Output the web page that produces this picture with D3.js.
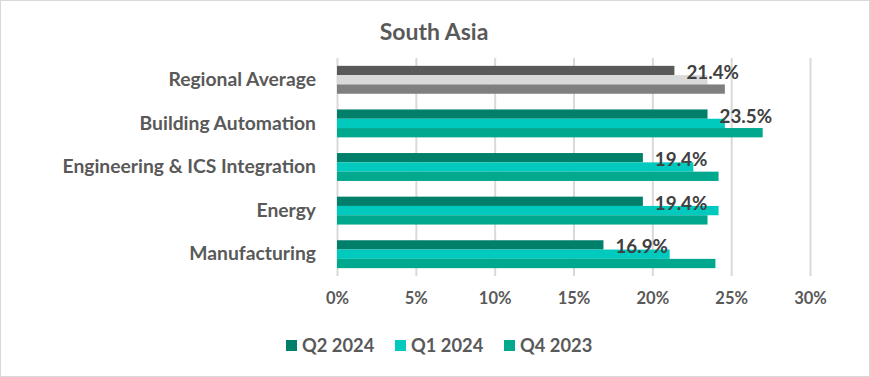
<!DOCTYPE html>
<html>
<head>
<meta charset="utf-8">
<script src="https://cdn.jsdelivr.net/npm/d3@7"></script>
<style>
  body { margin: 0; background: #fff; }
  svg text { font-family: Lato, "Open Sans", sans-serif; font-weight: bold; }
</style>
</head>
<body>
<div id="chart"></div>
<script>
// chart values
const categories = ['Regional Average', 'Building Automation', 'Engineering & ICS Integration', 'Energy', 'Manufacturing'];
const seriesNames = ['Q2 2024', 'Q1 2024', 'Q4 2023'];
const q2_2024 = [0.214, 0.235, 0.194, 0.194, 0.169];
const q1_2024 = [0.235, 0.246, 0.226, 0.242, 0.211];
const q4_2023 = [0.246, 0.270, 0.242, 0.235, 0.240];
const xTicks = [0, 0.05, 0.10, 0.15, 0.20, 0.25, 0.30];

const seriesColors = ['#00806a', '#00c9be', '#00a88e'];
const avgColors = ['#595959', '#d9d9d9', '#7f7f7f'];

const width = 870;
const height = 377;
const plot = {left: 337, right: 810, top: 58, bottom: 276};

const rows = categories.map((c, i) => ({
  name: c,
  values: [q2_2024[i], q1_2024[i], q4_2023[i]]
}));

const svg = d3.select('#chart').append('svg')
  .attr('width', width)
  .attr('height', height);

svg.append('rect')
  .attr('x', 0.5).attr('y', 0.5)
  .attr('width', width - 1).attr('height', height - 1)
  .attr('fill', '#fff')
  .attr('stroke', '#d9d9d9');

const x = d3.scaleLinear().domain([0, 0.30]).range([plot.left, plot.right]);
const y0 = d3.scaleBand().domain(categories).range([plot.top, plot.bottom])
  .paddingInner(0.36).paddingOuter(0.18);
const y1 = d3.scaleBand().domain(seriesNames).range([0, y0.bandwidth()]);

// gridlines
svg.append('g')
  .attr('class', 'grid')
  .attr('transform', 'translate(0,' + plot.bottom + ')')
  .call(d3.axisBottom(x).tickValues(xTicks).tickSize(-(plot.bottom - plot.top)).tickFormat(''))
  .call(g => g.select('.domain').remove())
  .call(g => g.selectAll('line').attr('stroke', '#d9d9d9').attr('stroke-width', 2));

// x axis labels
svg.append('g')
  .attr('class', 'x axis')
  .attr('transform', 'translate(0,' + plot.bottom + ')')
  .call(d3.axisBottom(x).tickValues(xTicks).tickSize(0).tickPadding(16).tickFormat(d3.format('.0%')))
  .call(g => g.select('.domain').remove())
  .call(g => g.selectAll('text').attr('fill', '#595959').style('font-size', '16.5px').style('font-family', null));

// y axis labels
svg.append('g')
  .attr('class', 'y axis')
  .attr('transform', 'translate(' + (plot.left - 21) + ',0)')
  .call(d3.axisLeft(y0).tickSize(0).tickPadding(0))
  .call(g => g.select('.domain').remove())
  .call(g => g.selectAll('text').attr('fill', '#595959').style('font-size', '19.3px').style('font-family', null));

// bars
const groups = svg.append('g').selectAll('g.row')
  .data(rows)
  .join('g')
  .attr('class', 'row')
  .attr('transform', d => 'translate(0,' + y0(d.name) + ')');

groups.selectAll('rect')
  .data((d, i) => d.values.map((v, j) => ({v, j, avg: i === 0})))
  .join('rect')
  .attr('x', x(0))
  .attr('y', d => y1(seriesNames[d.j]))
  .attr('height', y1.bandwidth())
  .attr('width', d => x(d.v) - x(0))
  .attr('fill', d => d.avg ? avgColors[d.j] : seriesColors[d.j]);

// data labels for Q2 2024
groups.append('text')
  .attr('x', d => x(d.values[0]) + 12)
  .attr('y', y1(seriesNames[0]) + y1.bandwidth() / 2 + 2)
  .attr('dy', '0.35em')
  .attr('fill', '#404040')
  .style('font-size', '18.8px')
  .text(d => d3.format('.1%')(d.values[0]));

// title
svg.append('text')
  .attr('x', 434)
  .attr('y', 40)
  .attr('text-anchor', 'middle')
  .attr('fill', '#595959')
  .style('font-size', '23px')
  .text('South Asia');

// legend
const legendX = [286, 395, 504];
const legend = svg.append('g').selectAll('g')
  .data(seriesNames)
  .join('g')
  .attr('transform', (d, i) => 'translate(' + legendX[i] + ',340)');

legend.append('rect')
  .attr('width', 11).attr('height', 11)
  .attr('fill', (d, i) => seriesColors[i]);

legend.append('text')
  .attr('x', 16)
  .attr('y', 6)
  .attr('dy', '0.35em')
  .attr('fill', '#595959')
  .style('font-size', '18.3px')
  .text(d => d);
</script>
</body>
</html>
